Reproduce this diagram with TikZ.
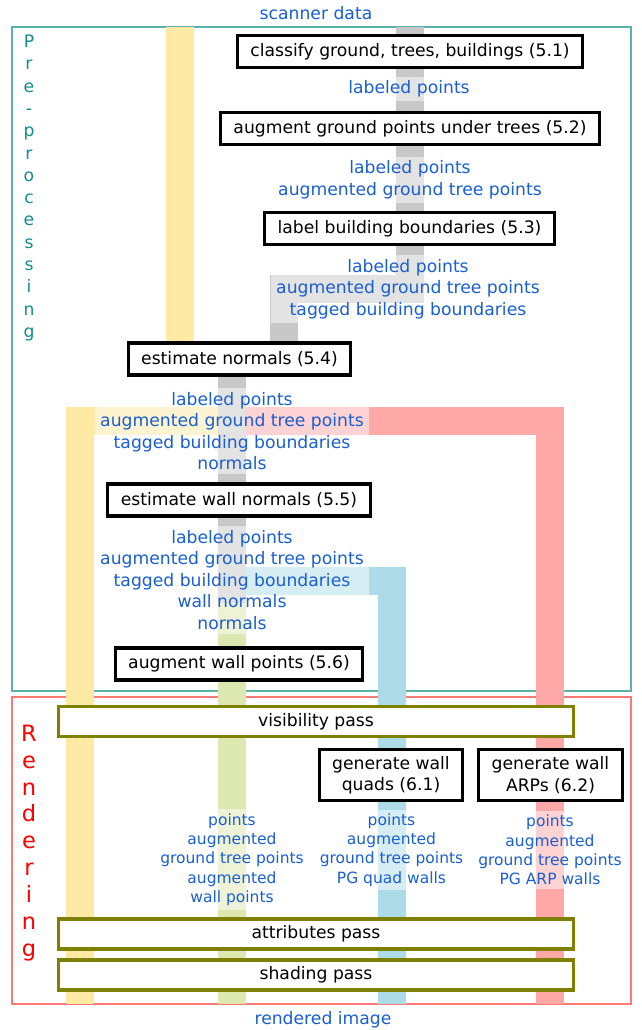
\documentclass[tikz,border=0pt]{standalone}
\usepackage{fontspec}
\setmainfont{DejaVu Sans}
\definecolor{flowblue}{RGB}{26,95,208}
\definecolor{frameteal}{RGB}{90,178,172}
\definecolor{textteal}{RGB}{20,140,140}
\definecolor{framered}{RGB}{255,120,120}
\definecolor{bandyellow}{RGB}{255,234,165}
\definecolor{bandgray}{RGB}{200,200,200}
\definecolor{bandpink}{RGB}{255,168,168}
\definecolor{bandblue}{RGB}{173,220,232}
\definecolor{bandgreen}{RGB}{221,232,176}
\definecolor{passolive}{RGB}{128,128,0}
\tikzset{
  stagebox/.style={draw=black, line width=3.2pt, fill=white, inner xsep=13pt,
    minimum height=32pt, align=center, font=\fontsize{17.2}{21.5}\selectfont},
  passbox/.style={stagebox, draw=passolive, minimum width=515pt, minimum height=30pt},
  flowlabel/.style={text=flowblue, fill=white, fill opacity=.5, text opacity=1,
    align=center, inner xsep=5pt, inner ysep=4pt, font=\fontsize{17.2}{21.5}\selectfont},
  smalllabel/.style={flowlabel, font=\fontsize{15.5}{19.3}\selectfont},
  band/.style={line width=28pt},
}
\begin{document}
\begin{tikzpicture}[x=1pt,y=-1pt]
	\useasboundingbox (0,0) rectangle (641,1030);
	% frames
	\draw[frameteal, line width=1.2pt] (12,27) rectangle (631,691);
	\draw[framered, line width=1.2pt] (12,697) rectangle (631,1004);
	\node[text=textteal, align=center, font=\fontsize{17.2}{22.3}\selectfont] (pre) at (29,188)
		{P\\r\\e\\-\\p\\r\\o\\c\\e\\s\\s\\i\\n\\g};
	\node[text=red, align=center, font=\fontsize{22.5}{26.9}\selectfont] (ren) at (29,843)
		{R\\e\\n\\d\\e\\r\\i\\n\\g};
	% data bands
	\coordinate (graytop) at (410,27);
	\coordinate (yeltop) at (180,27);
	\coordinate (split) at (232,420.5);
	\coordinate (bluesplit) at (232,580.5);
	\coordinate (greenstart) at (232,603);
	\draw[band, bandyellow] (yeltop) -- (180,359);
	\draw[band, bandyellow] (split) -- (80,420.5) -- (80,1004);
	\draw[band, bandpink] (split) -- (550,420.5) -- (550,1004);
	\draw[band, bandblue] (bluesplit) -- (391.5,580.5) -- (391.5,1004);
	\draw[band, bandgreen] (greenstart) -- (232,1004);
	\draw[band, bandgray] (graytop) -- (410,289) -- (284,289) -- (284,359) -- (232,359) -- (greenstart);
	% labels
	\node[flowlabel] (scan) at (316,13) {scanner data};
	\node[flowlabel] (lab1) at (409,89) {labeled points};
	\node[flowlabel] (lab2) at (410,180) {labeled points\\augmented ground tree points};
	\node[flowlabel] (lab3) at (408,289) {labeled points\\augmented ground tree points\\tagged building boundaries};
	\node[flowlabel] (lab4) at (232,431) {labeled points\\augmented ground tree points\\tagged building boundaries\\normals};
	\node[flowlabel] (lab5) at (232,580) {labeled points\\augmented ground tree points\\tagged building boundaries\\wall normals\\normals};
	\node[smalllabel] (labg) at (232,859.5) {points\\augmented\\ground tree points\\augmented\\wall points};
	\node[smalllabel] (labq) at (391.5,850) {points\\augmented\\ground tree points\\PG quad walls};
	\node[smalllabel] (laba) at (550,850) {points\\augmented\\ground tree points\\PG ARP walls};
	\node[flowlabel] (out) at (323,1020) {rendered image};
	% stages
	\node[stagebox] (cls) at (410,51.5) {classify ground, trees, buildings (5.1)};
	\node[stagebox] (aug) at (410,128.5) {augment ground points under trees (5.2)};
	\node[stagebox] (bnd) at (409.5,228.5) {label building boundaries (5.3)};
	\node[stagebox] (nrm) at (239.5,359) {estimate normals (5.4)};
	\node[stagebox] (wnrm) at (239,500) {estimate wall normals (5.5)};
	\node[stagebox] (wpts) at (239,664) {augment wall points (5.6)};
	\node[passbox] (vis) at (316,721.5) {visibility pass};
	\node[stagebox, minimum width=137pt, minimum height=51pt] (quads) at (391,775) {generate wall\\quads (6.1)};
	\node[stagebox, minimum width=138pt, minimum height=51pt] (arps) at (550.5,775) {generate wall\\ARPs (6.2)};
	\node[passbox] (attr) at (316,934) {attributes pass};
	\node[passbox] (shade) at (316,975) {shading pass};
\end{tikzpicture}
\end{document}
